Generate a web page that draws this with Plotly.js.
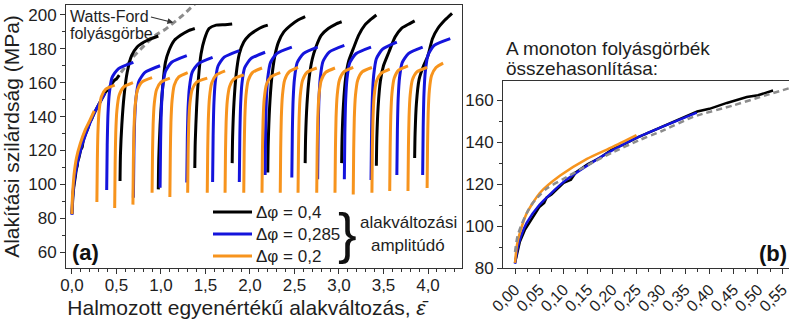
<!DOCTYPE html>
<html>
<head>
<meta charset="utf-8">
<script src="https://cdn.plot.ly/plotly-3.0.1.min.js"></script>
<style>html,body{margin:0;padding:0;background:#fff;}#chart{width:789px;height:320px;}</style>
</head>
<body>
<div id="chart"></div>
<script>
// ---- monotone first-loading curves (panel b, also first segment in panel a) ----
const monoBlackEps = [0,0.005,0.01,0.02,0.035,0.05,0.06,0.065,0.075,0.1,0.115,0.125,0.15,0.175,0.2,0.225,0.25,0.3,0.35,0.375,0.4,0.436,0.477,0.5,0.531];
const monoBlackSig = [82.4,87.5,92.5,98,103.5,109,111,113.5,115,120.5,122,125.5,129.5,132.5,136.5,139,142,147,152,154.5,155.8,158.6,161.4,162.3,164.5];
const monoBlueEps = [0,0.005,0.012,0.024,0.05,0.1,0.15,0.2,0.25,0.3,0.374];
const monoBlueSig = [82,89,95,101.5,110,121,129,136,142,147,154];
const monoOrangeEps = [0,0.004,0.01,0.024,0.051,0.093,0.148,0.2,0.25];
const monoOrangeSig = [82.4,91,96.7,106,115.7,124,132,137.6,143.3];

// ---- Watts-Ford flow curve (dashed) ----
const wfEpsB = [0,0.005,0.014,0.025,0.035,0.05,0.066,0.1,0.15,0.2,0.257,0.3,0.367,0.45,0.504,0.57];
const wfSigB = [87.6,95,101,106.5,110.5,114.5,118,122.5,129,135,141,145,152,157.5,161.4,166];
const wfEpsA = [0.55,0.7,0.85,0.95,1.05,1.15,1.25,1.35,1.42];
const wfSigA = [166,176,184,188.5,191.5,195.5,200,205,208.5];

// ---- cyclic reloading segments, panel a (null = break between cycles) ----
const blackEps = [
0.54,0.545,0.56,0.585,0.62,0.67,0.73,0.81,0.89,0.97,null,
0.97,0.975,0.99,1.02,1.05,1.09,1.15,1.22,1.30,1.38,null,
1.38,1.385,1.40,1.42,1.45,1.49,1.54,1.62,1.72,1.80,null,
1.80,1.805,1.82,1.845,1.88,1.93,1.99,2.07,2.14,2.20,null,
2.20,2.205,2.22,2.245,2.28,2.32,2.38,2.46,2.54,2.62,null,
2.62,2.625,2.64,2.665,2.70,2.74,2.80,2.88,2.96,3.03,null,
3.03,3.035,3.05,3.075,3.11,3.16,3.22,3.29,3.36,3.42,null,
3.42,3.425,3.44,3.465,3.50,3.56,3.63,3.70,3.78,3.85,null,
3.85,3.855,3.87,3.90,3.95,4.00,4.05,4.11,4.19,4.27];
const blackSig = [
102,118,135,152,166,176,181,184,186,187.6,null,
97,115,135,158,172,179,185,188,190.5,192,null,
109.6,125,145,162,177,186,192,194,194.3,194.7,null,
112.5,128,148,165,177,184,188,191,193,194,null,
107,124,145,163,176,184,190,194,197,199,null,
112.5,128,147,163,174,181,188,192,194.5,196,null,
112.5,128,147,163,173,180,188,194,197.5,200,null,
111,127,146,161,170,178,187,192,194.5,196.5,null,
115.5,130,148,162,170,176,186,192,197,201];

const blueEps = [
0.39,0.396,0.405,0.42,0.45,0.52,0.69,null,
0.69,0.696,0.705,0.72,0.75,0.82,0.99,null,
0.99,0.996,1.005,1.02,1.05,1.12,1.29,null,
1.29,1.296,1.305,1.32,1.35,1.42,1.58,null,
1.58,1.586,1.595,1.61,1.64,1.71,1.88,null,
1.88,1.886,1.895,1.91,1.94,2.01,2.17,null,
2.17,2.176,2.185,2.2,2.23,2.3,2.47,null,
2.47,2.476,2.485,2.5,2.53,2.6,2.76,null,
2.76,2.766,2.775,2.79,2.82,2.89,3.06,null,
3.06,3.066,3.075,3.09,3.12,3.19,3.36,null,
3.36,3.366,3.375,3.39,3.42,3.49,3.65,null,
3.65,3.656,3.665,3.68,3.71,3.78,3.94,null,
3.94,3.946,3.955,3.97,4.0,4.07,4.25];
const blueSig = [
96.6,123,141.8,153.9,163,168.2,172,null,
92,119.3,138.8,151.3,160.6,166.1,170,null,
98,125.3,144.8,157.3,166.6,172.1,176,null,
101,126.9,145.4,157.2,166.1,171.3,175,null,
101.4,128.6,148,160.4,169.7,175.1,179,null,
101.4,128.2,147.4,159.6,168.8,174.2,178,null,
105.5,131.9,150.8,162.9,171.9,177.2,181,null,
104,131,150.2,162.5,171.8,177.2,181,null,
103,130.7,150.4,163,172.5,178.1,182,null,
103,130.3,149.8,162.3,171.6,177.1,181,null,
102.5,131,151.4,164.4,174.2,179.9,184,null,
105.5,131.9,150.8,162.9,171.9,177.2,181,null,
105.5,133.7,153.8,166.7,176.3,182,186];

const orangeEps = [
0.28,0.285,0.292,0.305,0.33,0.38,0.48,null,
0.48,0.485,0.492,0.505,0.53,0.58,0.685,null,
0.685,0.69,0.697,0.71,0.735,0.785,0.9,null,
0.9,0.905,0.912,0.925,0.95,1.0,1.1,null,
1.1,1.105,1.112,1.125,1.15,1.2,1.3,null,
1.3,1.305,1.312,1.325,1.35,1.4,1.52,null,
1.52,1.525,1.532,1.545,1.57,1.62,1.72,null,
1.72,1.725,1.732,1.745,1.77,1.82,1.93,null,
1.93,1.935,1.942,1.955,1.98,2.03,2.135,null,
2.135,2.14,2.147,2.16,2.185,2.235,2.34,null,
2.34,2.345,2.352,2.365,2.39,2.44,2.54,null,
2.54,2.545,2.552,2.565,2.59,2.64,2.75,null,
2.75,2.755,2.762,2.775,2.8,2.85,2.955,null,
2.955,2.96,2.967,2.98,3.005,3.055,3.16,null,
3.16,3.165,3.172,3.185,3.21,3.26,3.37,null,
3.37,3.375,3.382,3.395,3.42,3.47,3.57,null,
3.57,3.575,3.582,3.595,3.62,3.67,3.775,null,
3.775,3.78,3.787,3.8,3.825,3.875,3.99,null,
3.99,3.995,4.002,4.015,4.04,4.09,4.17];
const orangeSig = [
89.5,113.7,131.0,143.4,151.7,156.2,158.6,null,
86,111.9,130.4,143.7,152.6,157.4,160,null,
88,114.3,133,146.5,155.5,160.4,163,null,
95,118.7,135.6,147.8,155.9,160.3,162.7,null,
92.5,118.2,136.6,149.8,158.7,163.4,166,null,
95,118.7,135.6,147.8,155.9,160.3,162.7,null,
95,120.2,138.2,151.2,159.8,164.5,167,null,
95,119.4,136.8,149.3,157.6,162.2,164.6,null,
95,120.8,139.2,152.5,161.3,166.1,168.7,null,
95,119.9,137.6,150.4,158.9,163.5,166,null,
95,120.9,139.4,152.7,161.6,166.4,169,null,
95,120.8,139.2,152.5,161.3,166.1,168.7,null,
95,120.8,139.2,152.5,161.3,166.1,168.7,null,
95,120.9,139.4,152.7,161.6,166.4,169,null,
94,120.3,139,152.5,161.5,166.4,169,null,
95,120.6,138.8,151.9,160.7,165.4,168,null,
96,121.9,140.4,153.7,162.6,167.4,170,null,
96,121.6,139.8,152.9,161.7,166.4,169,null,
97.8,123.6,142.1,155.4,164.2,169,171.6];

const seriesNames = ['Δφ = 0,4', 'Δφ = 0,285', 'Δφ = 0,2'];
const COL_BLACK = '#000000', COL_BLUE = '#1414dc', COL_ORANGE = '#f7941d', COL_GRAY = '#8c8c8c';
const seriesColors = [COL_BLACK, COL_BLUE, COL_ORANGE];
const FONT = 'Liberation Sans, Arial, sans-serif';
const TXT = '#1e1e1e';

function join(a, b) { return a.concat([null], b); }

const traces = [
  {x: wfEpsA, y: wfSigA, xaxis:'x', yaxis:'y', mode:'lines', showlegend:false, hoverinfo:'skip',
   line:{color:COL_GRAY, width:3, dash:'6px,4px'}},
  {x: join(monoBlackEps, blackEps), y: join(monoBlackSig, blackSig), xaxis:'x', yaxis:'y', mode:'lines',
   name: seriesNames[0], line:{color:COL_BLACK, width:3, shape:'spline', smoothing:0.6}},
  {x: join(monoBlueEps, blueEps), y: join(monoBlueSig, blueSig), xaxis:'x', yaxis:'y', mode:'lines',
   name: seriesNames[1], line:{color:COL_BLUE, width:3, shape:'spline', smoothing:0.6}},
  {x: join(monoOrangeEps, orangeEps), y: join(monoOrangeSig, orangeSig), xaxis:'x', yaxis:'y', mode:'lines',
   name: seriesNames[2], line:{color:COL_ORANGE, width:3, shape:'spline', smoothing:0.6}},
  {x: monoBlackEps, y: monoBlackSig, xaxis:'x2', yaxis:'y2', mode:'lines', showlegend:false,
   line:{color:COL_BLACK, width:2.5}},
  {x: monoBlueEps, y: monoBlueSig, xaxis:'x2', yaxis:'y2', mode:'lines', showlegend:false,
   line:{color:COL_BLUE, width:2.5, shape:'spline', smoothing:0.6}},
  {x: monoOrangeEps, y: monoOrangeSig, xaxis:'x2', yaxis:'y2', mode:'lines', showlegend:false,
   line:{color:COL_ORANGE, width:2.5, shape:'spline', smoothing:0.6}},
  {x: wfEpsB, y: wfSigB, xaxis:'x2', yaxis:'y2', mode:'lines', showlegend:false,
   line:{color:COL_GRAY, width:2.5, dash:'6px,4px', shape:'spline', smoothing:0.6}}
];

const W = 789, H = 320;
const px = v => v / W, py = v => 1 - v / H;

const axisCommon = {
  showgrid:false, zeroline:false, showline:true, linecolor:'#333', linewidth:1,
  ticks:'outside', ticklen:5, tickcolor:'#333', tickwidth:1,
  tickfont:{family:FONT, size:17, color:TXT}
};

// hand-made legend (key lines + labels) inside panel a
const legendRows = [212, 234, 256];
const shapes = [];
const annotations = [];
seriesNames.forEach((nm, i) => {
  shapes.push({type:'line', xref:'paper', yref:'paper', x0:px(213), x1:px(252), y0:py(legendRows[i]), y1:py(legendRows[i]),
               line:{color:seriesColors[i], width:3}});
  annotations.push({xref:'paper', yref:'paper', x:px(254), y:py(legendRows[i]), xanchor:'left', yanchor:'middle',
                    showarrow:false, text:nm, font:{family:FONT, size:17, color:TXT}});
});

annotations.push(
  {xref:'paper', yref:'paper', x:px(68), y:py(16), xanchor:'left', yanchor:'middle', showarrow:false,
   text:'Watts-Ford', font:{family:FONT, size:16, color:TXT}},
  {xref:'paper', yref:'paper', x:px(68), y:py(34), xanchor:'left', yanchor:'middle', showarrow:false,
   text:'folyásgörbe', font:{family:FONT, size:16, color:TXT}},
  {xref:'x', yref:'y', x:1.14, y:195.5, ax:-24, ay:-6, axref:'pixel', ayref:'pixel', text:'', showarrow:true,
   arrowhead:2, arrowsize:1, arrowwidth:1.2, arrowcolor:'#333'},
  {xref:'paper', yref:'paper', x:px(347), y:py(232), xanchor:'center', yanchor:'middle', showarrow:false,
   text:'}', font:{family:FONT, size:56, color:'#111'}},
  {xref:'paper', yref:'paper', x:px(408), y:py(222), xanchor:'center', yanchor:'middle', showarrow:false,
   text:'alakváltozási', font:{family:FONT, size:17, color:TXT}},
  {xref:'paper', yref:'paper', x:px(408), y:py(245), xanchor:'center', yanchor:'middle', showarrow:false,
   text:'amplitúdó', font:{family:FONT, size:17, color:TXT}},
  {xref:'paper', yref:'paper', x:px(70), y:py(252), xanchor:'left', yanchor:'middle', showarrow:false,
   text:'<b>(a)</b>', font:{family:FONT, size:22, color:'#111'}},
  {xref:'paper', yref:'paper', x:px(789), y:py(253), xanchor:'right', yanchor:'middle', showarrow:false,
   text:'<b>(b)</b>', font:{family:FONT, size:22, color:'#111'}},
  {xref:'paper', yref:'paper', x:px(504), y:py(48), xanchor:'left', yanchor:'middle', showarrow:false,
   text:'A monoton folyásgörbék', font:{family:FONT, size:19, color:TXT}},
  {xref:'paper', yref:'paper', x:px(504), y:py(69), xanchor:'left', yanchor:'middle', showarrow:false,
   text:'összehasonlítása:', font:{family:FONT, size:19, color:TXT}}
);

const layout = {
  width: W, height: H,
  margin:{l:0, r:0, t:0, b:0},
  paper_bgcolor:'#fff', plot_bgcolor:'#fff',
  separators: ', ',
  font:{family:FONT, color:TXT},
  showlegend: false,
  xaxis: Object.assign({}, axisCommon, {
    domain:[px(66), px(462)], range:[-0.067, 4.382], dtick:0.5, tick0:0, tickformat:'.1f',
    mirror:true, anchor:'y', ticklabelstandoff:-3,
    minor:{dtick:0.1, ticklen:3, ticks:'outside', tickcolor:'#333'},
    title:{text:'Halmozott egyenértékű alakváltozás, <i>ε̄</i><span style="fill-opacity:0">___</span>',
           font:{family:FONT, size:21, color:TXT}, standoff:6}
  }),
  yaxis: Object.assign({}, axisCommon, {
    domain:[py(268), py(5)], range:[50.56, 205.9], dtick:20, tick0:0,
    mirror:true, anchor:'x',
    minor:{dtick:10, ticklen:3, ticks:'outside', tickcolor:'#333'},
    title:{text:'Alakítási szilárdság (MPa)', font:{family:FONT, size:21, color:TXT}, standoff:6}
  }),
  xaxis2: Object.assign({}, axisCommon, {
    domain:[px(503), 1], range:[-0.0247, 0.5638], dtick:0.05, tick0:0, tickformat:'.2f',
    tickangle:-45, mirror:true, anchor:'y2', ticklabeloverflow:'allow',
    tickfont:{family:FONT, size:16, color:TXT},
    minor:{dtick:0.025, ticklen:3, ticks:'outside', tickcolor:'#333'}
  }),
  yaxis2: Object.assign({}, axisCommon, {
    domain:[py(268), py(81)], range:[80, 169.05], dtick:20, tick0:0,
    mirror:false, anchor:'x2',
    minor:{dtick:10, ticklen:3, ticks:'outside', tickcolor:'#333'}
  }),
  shapes: shapes,
  annotations: annotations
};

Plotly.newPlot('chart', traces, layout, {displayModeBar:false, staticPlot:true});
</script>
</body>
</html>
